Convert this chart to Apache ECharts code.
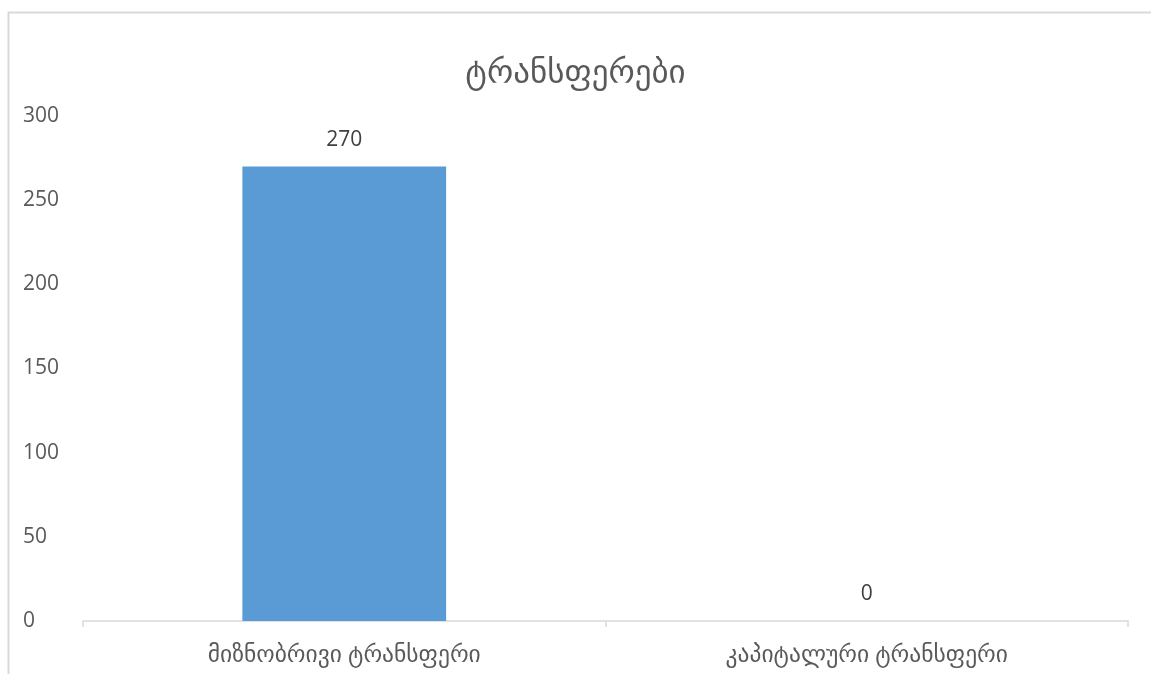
<!DOCTYPE html>
<html>
<head>
<meta charset="utf-8">
<script src="https://cdn.jsdelivr.net/npm/echarts@6/dist/echarts.min.js"></script>
<style>html,body{margin:0;padding:0;background:#fff}#c{width:1151px;height:674px}</style>
</head>
<body>
<div id="c"></div>
<script>
const titleText = 'ტრანსფერები';
const categories = ['მიზნობრივი ტრანსფერი', 'კაპიტალური ტრანსფერი'];
const values = [270, 0];
const yMin = 0, yMax = 300, yStep = 50;

const FONT = '"Open Sans", "DejaVu Sans", sans-serif';
const chart = echarts.init(document.getElementById('c'), null, {renderer: 'canvas'});
chart.setOption({
  backgroundColor: '#fff',
  animation: false,
  graphic: [{
    type: 'rect', left: 6, top: 10, shape: {width: 1170, height: 700},
    style: {fill: 'none', stroke: '#d9d9d9', lineWidth: 2}, silent: true
  }],
  title: {
    text: titleText, left: 'center', top: 52,
    textStyle: {fontFamily: FONT, fontSize: 33, fontWeight: 'normal', color: '#595959'}
  },
  grid: {left: 83, right: 23, top: 116, bottom: 53, containLabel: false},
  xAxis: {
    type: 'category', data: categories,
    axisLine: {lineStyle: {color: '#d9d9d9', width: 1.5}},
    axisTick: {show: true, length: 6, lineStyle: {color: '#d9d9d9', width: 1.5}},
    axisLabel: {fontFamily: FONT, fontSize: 23.5, color: '#595959', margin: 22}
  },
  yAxis: {
    type: 'value', min: yMin, max: yMax, interval: yStep,
    axisLine: {show: false}, axisTick: {show: false},
    splitLine: {show: false},
    axisLabel: {fontFamily: FONT, fontSize: 21, color: '#595959', align: 'left', margin: 60}
  },
  series: [{
    type: 'bar', data: values, barWidth: '39%',
    itemStyle: {color: '#5B9BD5'},
    label: {show: true, position: 'top', distance: 16, fontFamily: FONT, fontSize: 21, color: '#404040'}
  }]
});
</script>
</body>
</html>
